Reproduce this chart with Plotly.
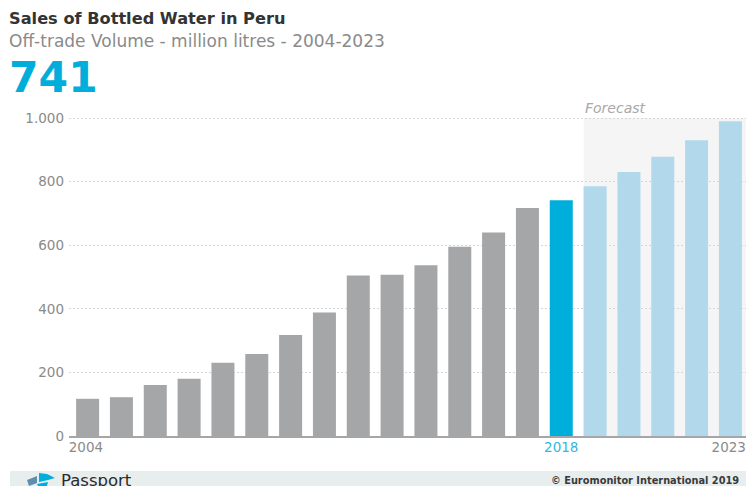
import plotly.graph_objects as go

W, H = 746, 486
LEFT, TOP, BOTTOM = 69, 115, 436

years = list(range(2004, 2024))
volumes = [117, 122, 160, 180, 230, 258, 318, 388, 505, 507,
           537, 595, 640, 717, 741, 785, 830, 878, 930, 990]
grey, blue, pale = "#a5a6a8", "#00aedb", "#b2d8ec"
forecast_start = 2019
latest_year = 2018
y_ticks = [0, 200, 400, 600, 800, 1000]
y_labels = ["0", "200", "400", "600", "800", "1.000"]
# End labels are nudged inward so the last one stays on the page
x_ticks = [2003.95, 2018, 2022.95]
FONT = "DejaVu Sans"


def px(x):
    return (x - LEFT) / (W - LEFT)


def py(y):
    return (BOTTOM - y) / (BOTTOM - TOP)


def logo_path(points):
    return "M" + " L".join(f"{px(x):.4f},{py(y):.4f}" for x, y in points) + " Z"


colors = [pale if y >= forecast_start else blue if y == latest_year else grey for y in years]

fig = go.Figure(go.Bar(x=years, y=volumes, width=0.68, marker=dict(color=colors, line_width=0)))


def label(text, x, y, size, color, anchor="left"):
    fig.add_annotation(text=text, x=px(x), y=py(y), xref="paper", yref="paper", showarrow=False,
                       xanchor=anchor, yanchor="middle", align=anchor, borderpad=0,
                       font=dict(family=FONT, size=size, color=color))


label("<b>Sales of Bottled Water in Peru</b>", 8, 19, 16.2, "#333333")
label("Off-trade Volume - million litres - 2004-2023", 8, 41, 17, "#8a8a8a")
label("<b>741</b>", 8, 77, 42.5, "#00aedb")
label("<i>Forecast</i>", 584, 108, 14, "#a8a8a8")
label("Passport", 60, 481, 16.5, "#2a2a2a")
label("<b>© Euromonitor International 2019</b>", 740, 480, 9.8, "#3a3a3a", anchor="right")

# Shaded forecast period sits under the gridlines
fig.add_shape(type="rect", xref="x", yref="y", layer="below",
              x0=forecast_start - 0.34, x1=2023.46, y0=0, y1=1000,
              fillcolor="#f5f5f5", line_width=0)
# Footer strip
fig.add_shape(type="rect", xref="paper", yref="paper", layer="below",
              x0=px(10), x1=px(746), y0=py(471), y1=py(486),
              fillcolor="#e8eeee", line_width=0)
# Passport globe mark in the footer
for pts, col in [
    ([(39, 473), (47, 474), (55, 478), (48, 480), (39, 482)], "#00aedb"),
    ([(37, 484), (48, 482), (47, 486), (38, 486)], "#00aedb"),
    ([(27, 480), (37, 476), (37, 483), (29, 486)], "#5f8fae"),
]:
    fig.add_shape(type="path", xref="paper", yref="paper", path=logo_path(pts),
                  fillcolor=col, line_width=0)

fig.update_layout(
    width=W, height=H, autosize=False, showlegend=False,
    margin=dict(l=LEFT, r=0, t=TOP, b=H - BOTTOM, pad=0, autoexpand=False),
    paper_bgcolor="white", plot_bgcolor="white",
    font=dict(family=FONT, size=13.5, color="#8a8a8a"),
)
fig.update_xaxes(range=[2003.45, 2023.46], tickmode="array", tickvals=x_ticks,
                 ticktext=["2004", '<span style="color:#2fb8e0">2018</span>', "2023"],
                 showgrid=False, zeroline=False, showline=True, linecolor="#a5a6a8", linewidth=2,
                 ticks="", ticklen=0, ticklabeloverflow="allow", ticklabelstandoff=-2,
                 automargin=False)
fig.update_yaxes(range=[0, 1009.43], tickmode="array", tickvals=y_ticks, ticktext=y_labels,
                 showgrid=True, gridcolor="#d6d6d6", gridwidth=1, griddash="2px,2px",
                 zeroline=False, showline=False, ticks="", ticklabelstandoff=4, automargin=False)

fig.write_html("out.html")
